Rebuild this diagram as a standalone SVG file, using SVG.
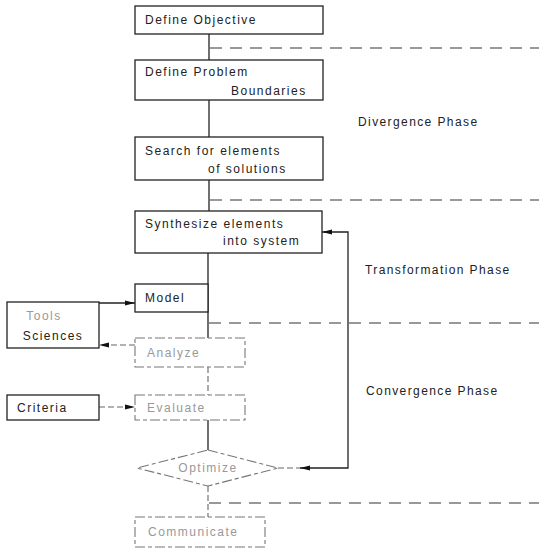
<svg xmlns="http://www.w3.org/2000/svg" width="539" height="550" viewBox="0 0 539 550">
<defs>
<marker id="ah" viewBox="0 0 10 6" refX="10" refY="3" markerWidth="10" markerHeight="6" markerUnits="userSpaceOnUse" orient="auto">
<path d="M0,0.5 L10,3 L0,5.5 Z" fill="#111"/>
</marker>
<style>
.box{fill:#fff;stroke:#222;stroke-width:1.3}
.fbox{fill:#fff;stroke:#777;stroke-width:1.1;stroke-dasharray:10 3 4 3}
.t{font-family:"Liberation Sans",Arial,sans-serif;font-size:12px;letter-spacing:1.5px;fill:#222}
.ft{font-family:"Liberation Sans",Arial,sans-serif;font-size:12px;letter-spacing:1.5px;fill:#999}
.ph{font-family:"Liberation Sans",Arial,sans-serif;font-size:12px;letter-spacing:1.4px;fill:#222}
.ln{fill:none;stroke:#222;stroke-width:1.3}
.fl{fill:none;stroke:#666;stroke-width:1.1;stroke-dasharray:6 3}
.dash{fill:none;stroke:#333;stroke-width:1.2;stroke-dasharray:12 8}
</style>
</defs>
<rect width="539" height="550" fill="#fff"/>

<g id="phase-lines">
<line class="dash" x1="210" y1="48" x2="539" y2="48"/>
<line class="dash" x1="210" y1="200" x2="539" y2="200"/>
<line class="dash" x1="209" y1="323" x2="539" y2="323"/>
<line class="dash" x1="209" y1="503" x2="539" y2="503"/>
</g>

<g id="connectors">
<line class="ln" x1="209" y1="34" x2="209" y2="60"/>
<line class="ln" x1="209" y1="100" x2="209" y2="137"/>
<line class="ln" x1="209" y1="180" x2="209" y2="211"/>
<line class="ln" x1="208" y1="253" x2="208" y2="338"/>
<line class="fl" x1="208" y1="367" x2="208" y2="395"/>
<line class="ln" x1="208" y1="420" x2="208" y2="450"/>
<line class="fl" x1="208" y1="486" x2="208" y2="517"/>
<line class="ln" x1="99" y1="303" x2="135" y2="303" marker-end="url(#ah)"/>
<line class="fl" x1="135" y1="345" x2="99" y2="345" marker-end="url(#ah)"/>
<line class="fl" x1="99" y1="407" x2="135" y2="407" marker-end="url(#ah)"/>
<path class="ln" d="M300,468 L348,468 L348,232 L322,232" marker-end="url(#ah)"/>
<line class="fl" x1="278" y1="468" x2="300" y2="468"/>
<path d="M300,468 L310,465.5 L310,470.5 Z" fill="#111"/>
</g>

<g id="define-objective">
<rect class="box" x="135" y="6" width="188" height="28"/>
<text class="t" x="145" y="24">Define Objective</text>
</g>

<g id="define-problem">
<rect class="box" x="135" y="60" width="188" height="40"/>
<text class="t" x="145" y="76">Define Problem</text>
<text class="t" x="231" y="95">Boundaries</text>
</g>

<g id="search">
<rect class="box" x="135" y="137" width="188" height="43"/>
<text class="t" x="145" y="155">Search for elements</text>
<text class="t" x="208" y="173">of solutions</text>
</g>

<g id="synthesize">
<rect class="box" x="135" y="211" width="187" height="42"/>
<text class="t" x="145" y="228">Synthesize elements</text>
<text class="t" x="223" y="245">into system</text>
</g>

<g id="model">
<rect class="box" x="135" y="284" width="73" height="28"/>
<text class="t" x="145" y="302">Model</text>
</g>

<g id="tools-sciences">
<rect class="box" x="7" y="302" width="92" height="46"/>
<text class="ft" x="44" y="320" text-anchor="middle">Tools</text>
<text class="t" x="53" y="340" text-anchor="middle">Sciences</text>
</g>

<g id="analyze">
<rect class="fbox" x="135" y="338" width="110" height="29"/>
<text class="ft" x="147" y="357">Analyze</text>
</g>

<g id="criteria">
<rect class="box" x="7" y="395" width="92" height="25"/>
<text class="t" x="17" y="412">Criteria</text>
</g>

<g id="evaluate">
<rect class="fbox" x="135" y="395" width="110" height="25"/>
<text class="ft" x="147" y="412">Evaluate</text>
</g>

<g id="optimize">
<polygon class="fbox" points="208,450 278,468 208,486 137,468"/>
<text class="ft" x="208" y="472" text-anchor="middle">Optimize</text>
</g>

<g id="communicate">
<rect class="fbox" x="135" y="517" width="130" height="30"/>
<text class="ft" x="148" y="536">Communicate</text>
</g>

<g id="phase-labels">
<text class="ph" x="358" y="126">Divergence Phase</text>
<text class="ph" x="365" y="274">Transformation Phase</text>
<text class="ph" x="366" y="395">Convergence Phase</text>
</g>
</svg>
